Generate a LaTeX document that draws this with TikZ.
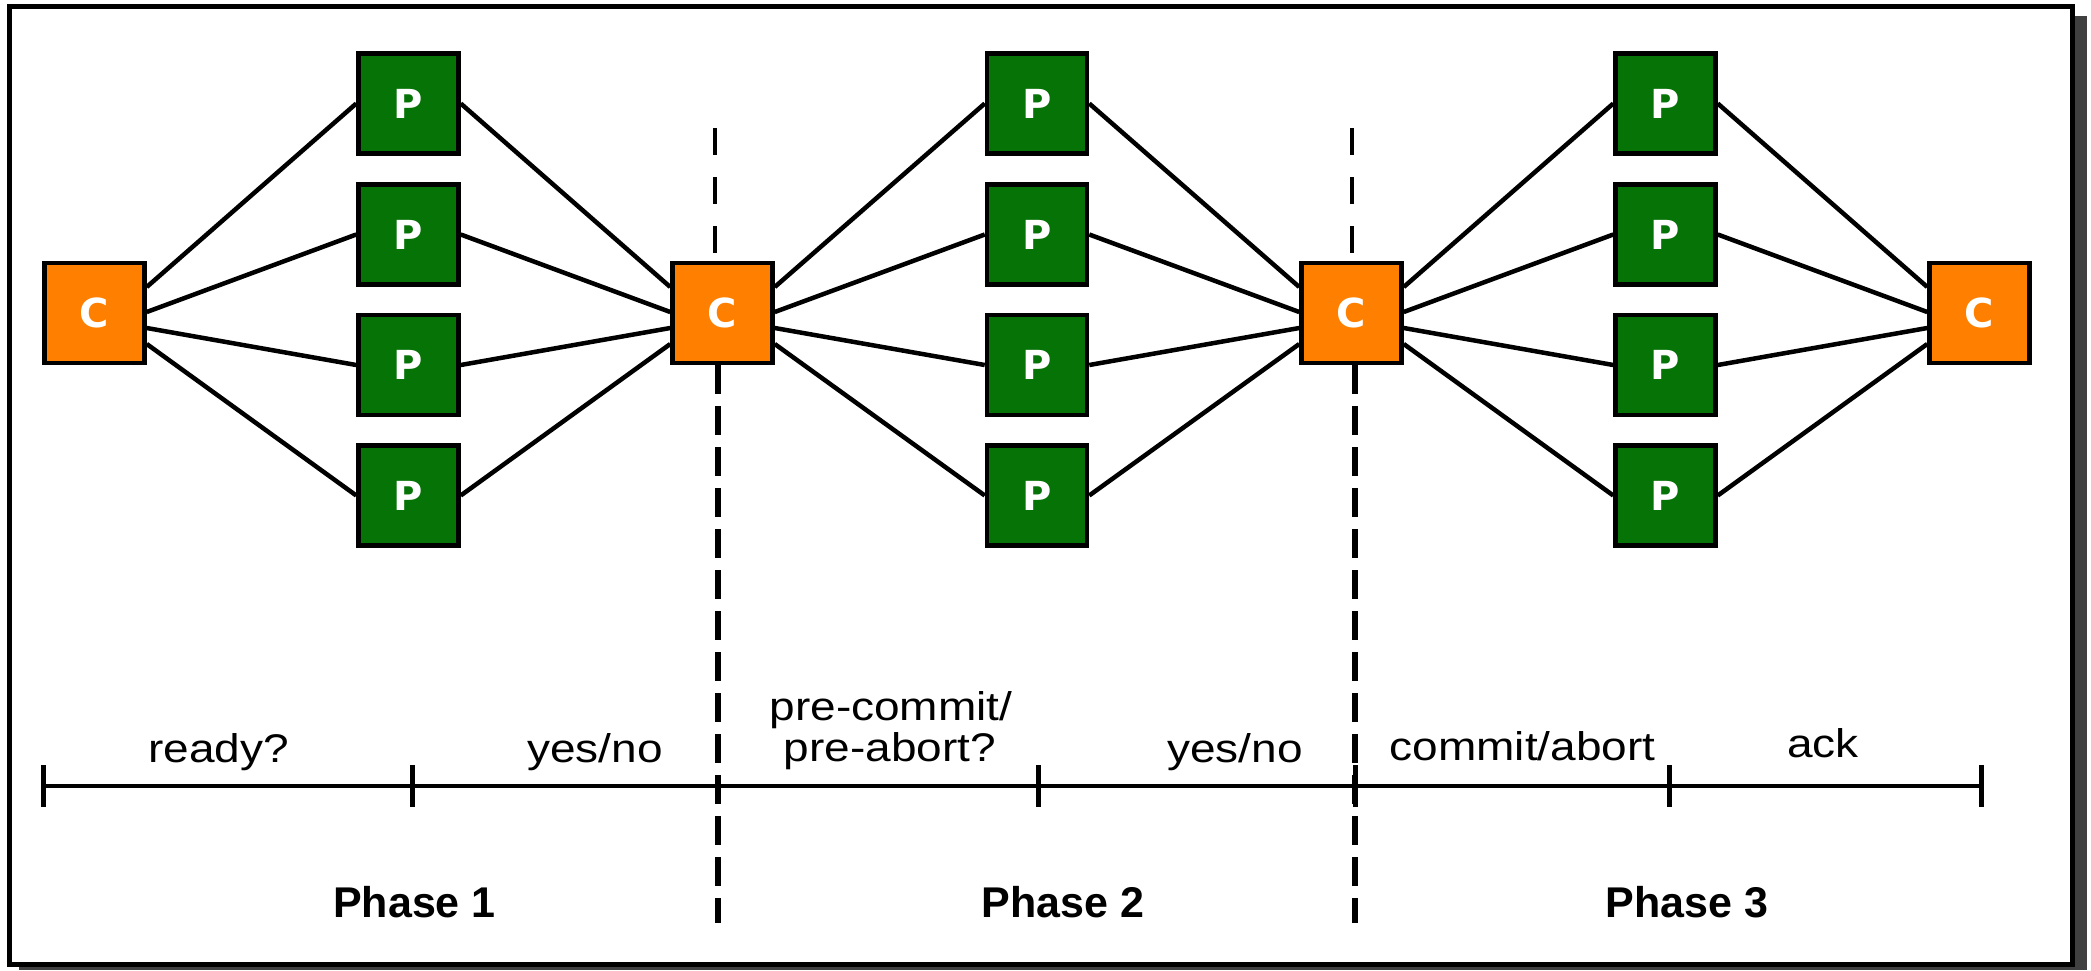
\documentclass[tikz,border=0pt]{standalone}
\usepackage{fontspec}
\setmainfont{Liberation Sans}
\newfontfamily\boxfont{DejaVu Sans}
\newfontfamily\labelfont[FakeStretch=1.15]{Liberation Sans}
\definecolor{coordorange}{RGB}{255,128,0}
\definecolor{partgreen}{RGB}{6,115,6}
\definecolor{shadowgray}{RGB}{64,64,64}

\begin{document}
\begin{tikzpicture}[x=1pt,y=-1pt,
  agent/.style={draw=black, line width=4.5pt, minimum width=100pt,
    minimum height=100pt, inner sep=0pt, text=white,
    font=\boxfont\bfseries\fontsize{40}{40}\selectfont},
  coordbox/.style={agent, fill=coordorange},
  partbox/.style={agent, fill=partgreen},
  msg/.style={line width=4.5pt},
  axisline/.style={line width=4pt},
  axistick/.style={line width=5pt},
  sepupper/.style={line width=4pt, dash pattern=on 27pt off 22pt},
  seplower/.style={line width=6pt, dash pattern=on 29pt off 12pt},
  steplabel/.style={anchor=base, inner sep=0pt,
    font=\labelfont\fontsize{40}{41}\selectfont},
  phaselabel/.style={anchor=base, inner sep=0pt,
    font=\bfseries\fontsize{43}{43}\selectfont}]

\useasboundingbox (0,0) rectangle (2091,970);

% framed panel with drop shadow
\fill[shadowgray] (19,16) rectangle (2087,970);
\draw[line width=5pt, fill=white] (9.5,6.5) rectangle (2072.5,964.5);

% coordinators and participants
\node[coordbox] (c1) at (94.5,313) {C};
\node[coordbox] (c2) at (722.5,313) {C};
\node[coordbox] (c3) at (1351.5,313) {C};
\node[coordbox] (c4) at (1979.5,313) {C};
\foreach \r/\y in {1/103.5, 2/234.5, 3/365, 4/495.5} {
  \node[partbox] (pa\r) at (408.5,\y) {P};
  \node[partbox] (pb\r) at (1037,\y) {P};
  \node[partbox] (pc\r) at (1665.5,\y) {P};
}

% messages between coordinator and participants
\foreach \r/\off in {1/26, 2/1, 3/-15, 4/-31} {
  \draw[msg] ([yshift=\off pt]c1.east) -- (pa\r.west);
  \draw[msg] (pa\r.east) -- ([yshift=\off pt]c2.west);
  \draw[msg] ([yshift=\off pt]c2.east) -- (pb\r.west);
  \draw[msg] (pb\r.east) -- ([yshift=\off pt]c3.west);
  \draw[msg] ([yshift=\off pt]c3.east) -- (pc\r.west);
  \draw[msg] (pc\r.east) -- ([yshift=\off pt]c4.west);
}

% phase separators
\coordinate (sepAtop) at (715,128);
\coordinate (sepAbot) at (718,923);
\coordinate (sepBtop) at (1352,128);
\coordinate (sepBbot) at (1355,923);
\draw[sepupper] (sepAtop) -- (sepAtop |- c2.north);
\draw[seplower] (sepAbot |- c2.south) -- (sepAbot);
\draw[sepupper] (sepBtop) -- (sepBtop |- c3.north);
\draw[seplower] (sepBbot |- c3.south) -- (sepBbot);

% time axis
\coordinate (t0) at (43,786);
\coordinate (t1) at (412,786);
\coordinate (t2) at (1038,786);
\coordinate (t3) at (1355,786);
\coordinate (t4) at (1669,786);
\coordinate (t5) at (1981,786);
\draw[axisline] (t0) -- (t5);
\foreach \t in {t0,t1,t2,t3,t4,t5}
  \draw[axistick] ([yshift=21pt]\t) -- ([yshift=-21pt]\t);

% message labels
\node[steplabel] (lready)  at (218.5,762) {ready?};
\node[steplabel] (lyes1)   at (595,762) {yes/no};
\node[steplabel] (lpre1)   at (891,720) {pre-commit/};
\node[steplabel] (lpre2)   at (890,761) {pre-abort?};
\node[steplabel] (lyes2)   at (1235,762) {yes/no};
\node[steplabel] (lcommit) at (1522.5,760) {commit/abort};
\node[steplabel] (lack)    at (1823,757) {ack};

% phase names
\node[phaselabel] (ph1) at (414.5,917) {Phase 1};
\node[phaselabel] (ph2) at (1063,917) {Phase 2};
\node[phaselabel] (ph3) at (1687,917) {Phase 3};
\end{tikzpicture}
\end{document}
